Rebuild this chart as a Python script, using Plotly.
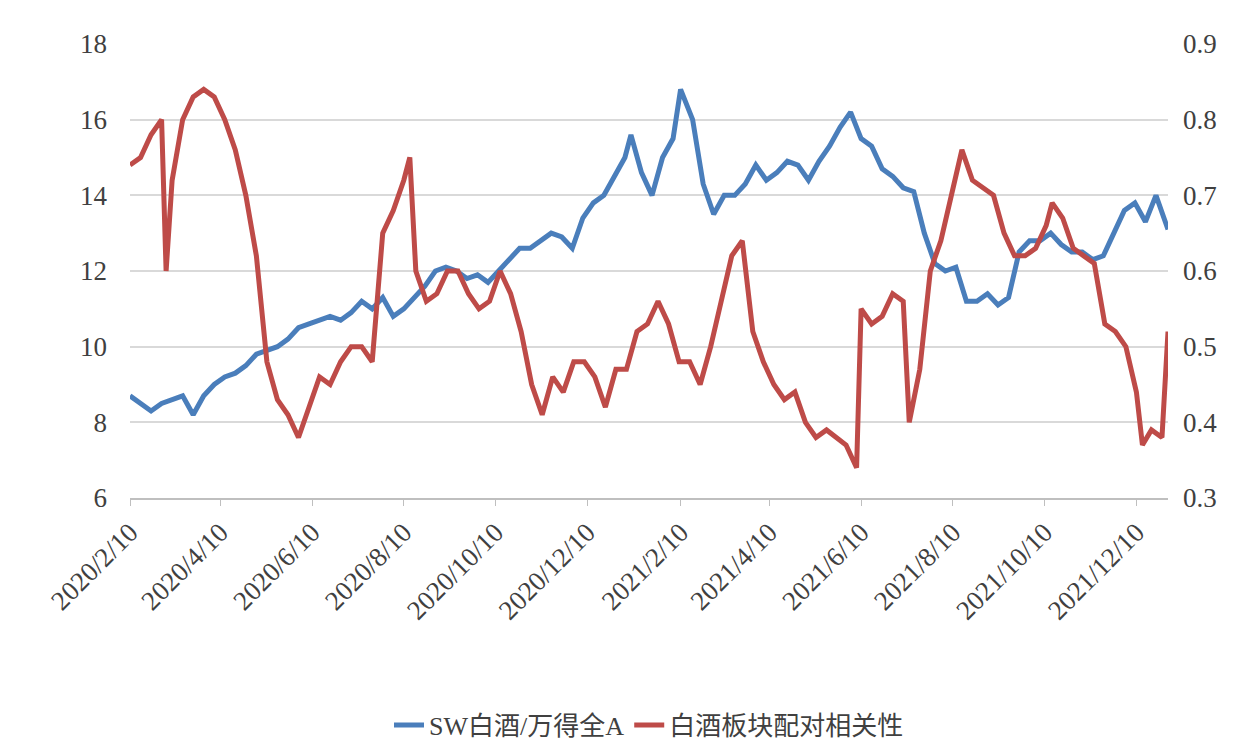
import plotly.graph_objects as go

blue_dates = ["2020-02-10","2020-02-17","2020-02-24","2020-03-02","2020-03-09","2020-03-16","2020-03-23","2020-03-30","2020-04-06","2020-04-13","2020-04-20","2020-04-27","2020-05-04","2020-05-11","2020-05-18","2020-05-25","2020-06-01","2020-06-08","2020-06-15","2020-06-22","2020-06-29","2020-07-06","2020-07-13","2020-07-20","2020-07-27","2020-08-03","2020-08-10","2020-08-17","2020-08-24","2020-08-31","2020-09-07","2020-09-14","2020-09-21","2020-09-28","2020-10-05","2020-10-12","2020-10-19","2020-10-26","2020-11-02","2020-11-09","2020-11-16","2020-11-23","2020-11-30","2020-12-07","2020-12-14","2020-12-21","2020-12-28","2021-01-04","2021-01-08","2021-01-15","2021-01-22","2021-01-29","2021-02-05","2021-02-10","2021-02-18","2021-02-25","2021-03-04","2021-03-11","2021-03-18","2021-03-25","2021-04-01","2021-04-08","2021-04-15","2021-04-22","2021-04-29","2021-05-06","2021-05-13","2021-05-20","2021-05-27","2021-06-03","2021-06-10","2021-06-17","2021-06-24","2021-07-01","2021-07-08","2021-07-15","2021-07-22","2021-07-29","2021-08-05","2021-08-12","2021-08-19","2021-08-26","2021-09-02","2021-09-09","2021-09-16","2021-09-23","2021-09-30","2021-10-07","2021-10-14","2021-10-21","2021-10-28","2021-11-04","2021-11-11","2021-11-18","2021-11-25","2021-12-02","2021-12-09","2021-12-16","2021-12-23","2021-12-31"]
blue_vals = [8.7,8.5,8.3,8.5,8.6,8.7,8.2,8.7,9.0,9.2,9.3,9.5,9.8,9.9,10.0,10.2,10.5,10.6,10.7,10.8,10.7,10.9,11.2,11.0,11.3,10.8,11.0,11.3,11.6,12.0,12.1,12.0,11.8,11.9,11.7,12.0,12.3,12.6,12.6,12.8,13.0,12.9,12.6,13.4,13.8,14.0,14.5,15.0,15.6,14.6,14.0,15.0,15.5,16.8,16.0,14.3,13.5,14.0,14.0,14.3,14.8,14.4,14.6,14.9,14.8,14.4,14.9,15.3,15.8,16.2,15.5,15.3,14.7,14.5,14.2,14.1,13.0,12.2,12.0,12.1,11.2,11.2,11.4,11.1,11.3,12.5,12.8,12.8,13.0,12.7,12.5,12.5,12.3,12.4,13.0,13.6,13.8,13.3,14.0,13.1]

red_dates = ["2020-02-10","2020-02-17","2020-02-24","2020-03-02","2020-03-05","2020-03-09","2020-03-16","2020-03-23","2020-03-30","2020-04-06","2020-04-13","2020-04-20","2020-04-27","2020-05-04","2020-05-11","2020-05-18","2020-05-25","2020-06-01","2020-06-08","2020-06-15","2020-06-22","2020-06-29","2020-07-06","2020-07-13","2020-07-20","2020-07-27","2020-08-03","2020-08-10","2020-08-14","2020-08-18","2020-08-25","2020-09-01","2020-09-08","2020-09-15","2020-09-22","2020-09-29","2020-10-06","2020-10-13","2020-10-20","2020-10-27","2020-11-03","2020-11-10","2020-11-17","2020-11-24","2020-12-01","2020-12-08","2020-12-15","2020-12-22","2020-12-29","2021-01-05","2021-01-12","2021-01-19","2021-01-26","2021-02-02","2021-02-09","2021-02-16","2021-02-23","2021-03-02","2021-03-09","2021-03-16","2021-03-23","2021-03-30","2021-04-06","2021-04-13","2021-04-20","2021-04-27","2021-05-04","2021-05-11","2021-05-18","2021-05-25","2021-05-31","2021-06-07","2021-06-10","2021-06-17","2021-06-24","2021-07-01","2021-07-08","2021-07-12","2021-07-19","2021-07-26","2021-08-02","2021-08-09","2021-08-16","2021-08-23","2021-08-30","2021-09-06","2021-09-13","2021-09-20","2021-09-27","2021-10-04","2021-10-11","2021-10-15","2021-10-22","2021-10-29","2021-11-05","2021-11-12","2021-11-19","2021-11-26","2021-12-03","2021-12-10","2021-12-14","2021-12-20","2021-12-27","2021-12-31"]
red_vals = [0.74,0.75,0.78,0.80,0.60,0.72,0.80,0.83,0.84,0.83,0.80,0.76,0.70,0.62,0.48,0.43,0.41,0.38,0.42,0.46,0.45,0.48,0.50,0.50,0.48,0.65,0.68,0.72,0.75,0.60,0.56,0.57,0.60,0.60,0.57,0.55,0.56,0.60,0.57,0.52,0.45,0.41,0.46,0.44,0.48,0.48,0.46,0.42,0.47,0.47,0.52,0.53,0.56,0.53,0.48,0.48,0.45,0.50,0.56,0.62,0.64,0.52,0.48,0.45,0.43,0.44,0.40,0.38,0.39,0.38,0.37,0.34,0.55,0.53,0.54,0.57,0.56,0.40,0.47,0.60,0.64,0.70,0.76,0.72,0.71,0.70,0.65,0.62,0.62,0.63,0.66,0.69,0.67,0.63,0.62,0.61,0.53,0.52,0.50,0.44,0.37,0.39,0.38,0.52]

tick_dates = ["2020-02-10","2020-04-10","2020-06-10","2020-08-10","2020-10-10","2020-12-10","2021-02-10","2021-04-10","2021-06-10","2021-08-10","2021-10-10","2021-12-10"]
tick_labels = ["2020/2/10","2020/4/10","2020/6/10","2020/8/10","2020/10/10","2020/12/10","2021/2/10","2021/4/10","2021/6/10","2021/8/10","2021/10/10","2021/12/10"]

font = "'Liberation Serif', 'DejaVu Serif', 'Noto Sans CJK SC', serif"
fig = go.Figure()
fig.add_trace(go.Scatter(x=blue_dates, y=blue_vals, name="SW白酒/万得全A", mode="lines",
                         line=dict(color="#4a7ebb", width=5)))
fig.add_trace(go.Scatter(x=red_dates, y=red_vals, name="白酒板块配对相关性", mode="lines", yaxis="y2",
                         line=dict(color="#be4b48", width=5)))
fig.update_layout(
    width=1254, height=753, plot_bgcolor="white", paper_bgcolor="white",
    margin=dict(l=122, r=94, t=36, b=253),
    font=dict(family=font, size=27, color="#404040"),
    xaxis=dict(range=["2020-02-10","2021-12-31"], tickvals=tick_dates, ticktext=tick_labels,
               tickangle=-45, showgrid=False, showline=True, linecolor="#bfbfbf", linewidth=1.5,
               ticks="outside", tickcolor="#bfbfbf", ticklen=6),
    yaxis=dict(range=[6,18], dtick=2, showgrid=True, gridcolor="#d9d9d9", gridwidth=1.5,
               zeroline=False, ticks="", ticklabelstandoff=22),
    yaxis2=dict(range=[0.3,0.9], dtick=0.1, overlaying="y", side="right", showgrid=False,
                zeroline=False, tickformat=".1f", ticklabelstandoff=14),
    legend=dict(orientation="h", x=0.5, xanchor="center", y=-0.5, yanchor="middle",
                font=dict(size=26, color="#404040")),
)
fig.write_html("out.html")
